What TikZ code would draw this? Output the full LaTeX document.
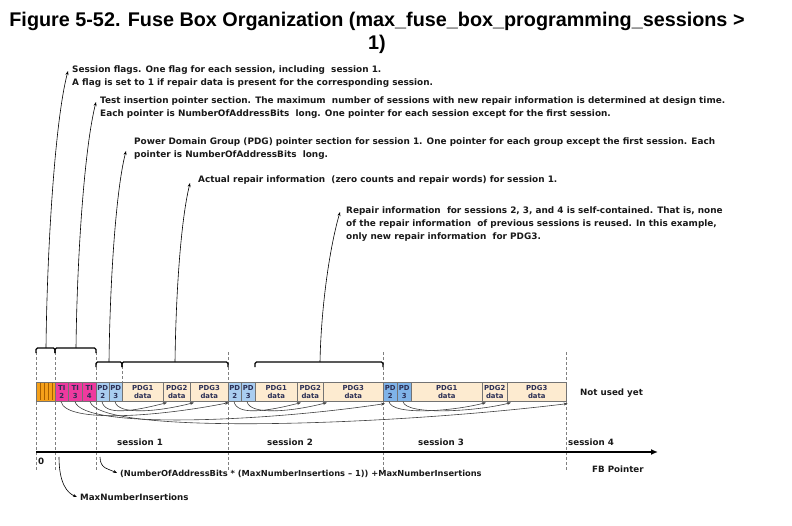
\documentclass[tikz,border=0pt]{standalone}
\usepackage{fontspec}
\setmainfont{Liberation Sans}
\newfontfamily\tahfont{DejaVu Sans}
\usetikzlibrary{arrows.meta}

\definecolor{flagorange}{HTML}{F5A01A}
\definecolor{flagline}{HTML}{A85F00}
\definecolor{timagenta}{HTML}{EE3A9E}
\definecolor{pdblue}{HTML}{A9CDF0}
\definecolor{pdbluedark}{HTML}{7FB3E8}
\definecolor{datapeach}{HTML}{FDEBD0}
\definecolor{celltext}{HTML}{2B2F55}

\tikzset{
  cell/.style={draw=black!55, line width=0.6pt, anchor=north west, minimum height=19pt,
    inner sep=0pt, align=center, text=celltext,
    font=\tahfont\bfseries\fontsize{6.9}{8.2}\selectfont},
  note/.style={anchor=north west, align=left, inner sep=0pt, text=black!90,
    font=\tahfont\bfseries\fontsize{8.9}{12.6}\selectfont},
  lbl/.style={anchor=base west, inner sep=0pt, text=black!90,
    font=\tahfont\bfseries\fontsize{8.7}{10}\selectfont},
  lead/.style={line width=0.6pt, -{Stealth[length=4pt,width=3pt]}},
  brc/.style={line width=1.3pt, rounded corners=1.5pt},
  gap/.style={densely dashed, black!50, line width=0.5pt},
  ptr/.style={line width=0.6pt, black!75, -{Stealth[length=4pt,width=3pt]}}
}

\begin{document}
\begin{tikzpicture}[x=1pt,y=-1pt]
    \useasboundingbox (0,0) rectangle (792,526);

    \node[font=\bfseries\fontsize{19.8}{23}\selectfont, align=center] (title) at (377,33)
        {Figure 5-52. Fuse Box Organization (max\_fuse\_box\_programming\_sessions >\\1)};

    % session borders
    \foreach \x in {36,55,96,228,383,566}
        \draw[gap] (\x,352) -- (\x,470);
    \draw[gap] (122,366) -- (122,382);

    % fuse box
    \node[cell, fill=flagorange, minimum width=19pt] (fl) at (36,382) {};
    \foreach \s in {40,44,48,52}
        \draw[flagline, line width=1pt] (\s,383) -- (\s,400);
    \foreach \n/\l/\r/\c/\t in {tiA/55/68/timagenta/TI\\2, tiB/68/82/timagenta/TI\\3,
        tiC/82/96/timagenta/TI\\4, pa/96/109/pdblue/PD\\2, pb/109/122/pdblue/PD\\3,
        da/122/163/datapeach/PDG1\\data, db/163/190/datapeach/PDG2\\data,
        dc/190/228/datapeach/PDG3\\data, pc/228/241/pdblue/PD\\2, pd/241/255/pdblue/PD\\3,
        dd/255/297/datapeach/PDG1\\data, de/297/323/datapeach/PDG2\\data,
        df/323/383/datapeach/PDG3\\data, pe/383/397/pdbluedark/PD\\2,
        pf/397/411/pdbluedark/PD\\3, dg/411/482/datapeach/PDG1\\data,
        dh/482/507/datapeach/PDG2\\data, di/507/566/datapeach/PDG3\\data}
        \node[cell, fill=\c, minimum width={(\r-\l)*1pt}] (\n) at (\l,382) {\t};
    \node[lbl] (free) at (580,395) {Not used yet};

    % braces
    \draw[brc] (36,353) -- (36,348) -- (55,348) -- (55,353);
    \draw[brc] (55,353) -- (55,348) -- (96,348) -- (96,353);
    \draw[brc] (96,367) -- (96,362) -- (122,362) -- (122,367);
    \draw[brc] (122,367) -- (122,362) -- (228,362) -- (228,367);
    \draw[brc] (255,367) -- (255,362) -- (383,362) -- (383,367);
    \coordinate (b1) at (46,348);
    \coordinate (b2) at (76,348);
    \coordinate (b3) at (109,362);
    \coordinate (b4) at (175,362);
    \coordinate (b5) at (320,362);

    % notes
    \node[note] (n1) at (72,66) {Session flags. One flag for each session, including\ \ session 1.\\
        A flag is set to 1 if repair data is present for the corresponding session.};
    \node[note] (n2) at (100,97) {Test insertion pointer section. The maximum\ \ number of sessions with new repair information is determined at design time.\\
        Each pointer is NumberOfAddressBits\ \ long. One pointer for each session except for the first session.};
    \node[note] (n3) at (134,138) {Power Domain Group (PDG) pointer section for session 1. One pointer for each group except the first session. Each\\
        pointer is NumberOfAddressBits\ \ long.};
    \node[note] (n4) at (198,176) {Actual repair information\ \ (zero counts and repair words) for session 1.};
    \node[note] (n5) at (346,207) {Repair information\ \ for sessions 2, 3, and 4 is self-contained. That is, none\\
        of the repair information\ \ of previous sessions is reused. In this example,\\
        only new repair information\ \ for PDG3.};

    \draw[lead] (b1) .. controls (47,250) and (55,120) .. ([shift={(-4pt,-5pt)}]n1.north west);
    \draw[lead] (b2) .. controls (77,260) and (84,150) .. ([shift={(-4pt,-5pt)}]n2.north west);
    \draw[lead] (b3) .. controls (110,280) and (116,190) .. ([shift={(-8pt,-13pt)}]n3.north west);
    \draw[lead] (b4) .. controls (176,290) and (181,220) .. ([shift={(-8pt,-7pt)}]n4.north west);
    \draw[lead] (b5) .. controls (321,310) and (329,250) .. ([shift={(-6pt,-5pt)}]n5.north west);

    % pointers
    \draw[ptr] ([xshift=6pt]tiA.south west) .. controls +(5,22) and +(-70,14) .. ([xshift=1pt,yshift=-1pt]pc.south west);
    \draw[ptr] ([xshift=7pt]tiB.south west) .. controls +(8,28) and +(-120,18) .. ([xshift=2pt,yshift=-2pt]pe.south west);
    \draw[ptr] ([xshift=8pt]tiC.south west) .. controls +(10,34) and +(-180,22) .. ([xshift=1pt,yshift=-2pt]di.south east);
    \foreach \s/\t in {pa/db, pb/dc, pc/de, pd/df, pe/dh, pf/di}
        \draw[ptr] ([xshift=6pt]\s.south west) .. controls +(3,14) and +(-35,9) .. ([xshift=4pt,yshift=-1pt]\t.south west);

    % pointer axis
    \coordinate (o) at (36,452);
    \coordinate (e) at (658,452);
    \draw[line width=1.8pt, -{Latex[length=7pt,width=6pt]}] (o) -- (e);
    \node[lbl] (s1) at (117,445) {session 1};
    \node[lbl] (s2) at (267,445) {session 2};
    \node[lbl] (s3) at (418,445) {session 3};
    \node[lbl] (s4) at (568,445) {session 4};
    \node[lbl] (zero) at (38,464) {0};
    \node[lbl] (fbp) at (592,472) {FB Pointer};

    \coordinate (m1) at (59,457);
    \coordinate (m2) at (100,457);
    \node[lbl] (mx) at (80,500) {MaxNumberInsertions};
    \node[lbl, font=\tahfont\bfseries\fontsize{8.3}{10}\selectfont] (nf) at (120,476)
        {(NumberOfAddressBits * (MaxNumberInsertions – 1)) +MaxNumberInsertions};
    \draw[lead] (m1) .. controls +(0,26) and +(-10,-4) .. ([shift={(-3pt,3pt)}]mx.base west);
    \draw[lead] (m2) .. controls +(0,12) and +(-8,-4) .. ([shift={(-3pt,3pt)}]nf.base west);
\end{tikzpicture}
\end{document}
